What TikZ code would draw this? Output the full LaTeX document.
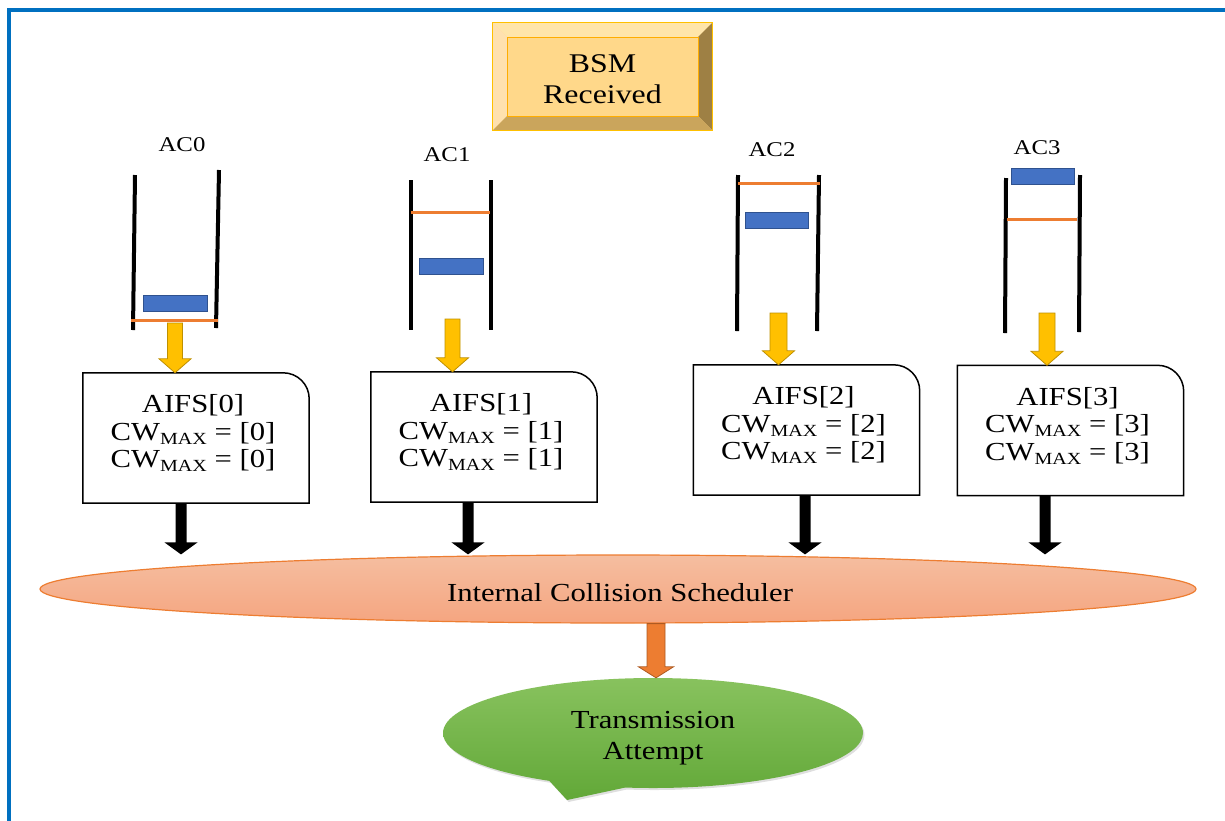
\documentclass[tikz,border=0pt]{standalone}
\usepackage{fontspec}
\setmainfont{Liberation Serif}[FakeStretch=1.18]
\usetikzlibrary{calc,shapes.geometric,shapes.callouts,shadows}
\definecolor{frameblue}{RGB}{0,112,192}
\definecolor{qblue}{RGB}{68,114,196}
\definecolor{qblueb}{RGB}{47,82,143}
\definecolor{qorange}{RGB}{237,125,49}
\definecolor{ayellow}{RGB}{255,192,0}
\definecolor{ayellowb}{RGB}{191,144,0}
\definecolor{bsmfill}{RGB}{255,216,138}
\definecolor{bsmtop}{RGB}{255,229,170}
\definecolor{bsmleft}{RGB}{255,225,175}
\definecolor{bsmright}{RGB}{158,128,68}
\definecolor{bsmbot}{RGB}{202,165,92}
\definecolor{salmontop}{RGB}{245,190,160}
\definecolor{salmonbot}{RGB}{245,165,128}
\definecolor{greentop}{RGB}{136,194,94}
\definecolor{greenbot}{RGB}{98,168,56}
\definecolor{oarrowb}{RGB}{174,90,33}
\newcommand{\blockarrow}[6]{%
  \path[#6] let \p1=(#1), \p2=(#2) in
    ({\x1-#3},\y1) -- ({\x1-#3},{\y2+#5}) -- ({\x1-#4},{\y2+#5}) -- (\x1,\y2)
    -- ({\x1+#4},{\y2+#5}) -- ({\x1+#3},{\y2+#5}) -- ({\x1+#3},\y1) -- cycle;}
\newcommand{\cwmax}{CW\raisebox{-4pt}{\fontsize{17}{17}\selectfont MAX}}
\tikzset{
  wall/.style={line width=4pt, black},
  fillline/.style={line width=3pt, qorange},
  packet/.style={fill=qblue, draw=qblueb, line width=0.8pt},
  aclabel/.style={font=\fontsize{21}{21}\selectfont, inner sep=0pt},
  aifsbox/.style={minimum width=226pt, minimum height=130pt, inner sep=0pt},
  aifsshape/.style={draw=black, line width=1.5pt, fill=white},
  aifstext/.style={align=center, font=\fontsize{26}{27.5}\selectfont, inner sep=0pt},
  yarrow/.style={fill=ayellow, draw=ayellowb, line width=0.8pt},
  karrow/.style={fill=black},
  oarrow/.style={fill=qorange, draw=oarrowb, line width=0.8pt},
}
\begin{document}
\begin{tikzpicture}[x=1pt,y=-1pt]
\useasboundingbox (0,0) rectangle (1225,820);
% frame
\draw[frameblue, line width=4pt] (9,822) -- (9,9.5) -- (1227,9.5);

% BSM Received
\node[minimum width=219pt, minimum height=107pt, fill=bsmfill, inner sep=0pt] (bsm) at (602.5,76.5) {};
\fill[bsmtop] (bsm.north west) -- (bsm.north east) -- ([shift={(-14pt,-14pt)}]bsm.north east) -- ([shift={(14pt,-14pt)}]bsm.north west) -- cycle;
\fill[bsmleft] (bsm.north west) -- ([shift={(14pt,-14pt)}]bsm.north west) -- ([shift={(14pt,14pt)}]bsm.south west) -- (bsm.south west) -- cycle;
\fill[bsmright] (bsm.north east) -- (bsm.south east) -- ([shift={(-14pt,14pt)}]bsm.south east) -- ([shift={(-14pt,-14pt)}]bsm.north east) -- cycle;
\fill[bsmbot] (bsm.south west) -- ([shift={(14pt,14pt)}]bsm.south west) -- ([shift={(-14pt,14pt)}]bsm.south east) -- (bsm.south east) -- cycle;
\draw[ayellow, line width=1pt] (bsm.north west) rectangle (bsm.south east);
\draw[ayellow!70!orange, line width=0.6pt] ([shift={(14pt,-14pt)}]bsm.north west) rectangle ([shift={(-14pt,14pt)}]bsm.south east);
\node[align=center, font=\fontsize{27}{31}\selectfont, inner sep=0pt] (bsmt) at ([yshift=-3pt]bsm.center) {BSM\\Received};

% AC labels
\node[aclabel] (l0) at (182,145) {AC0};
\node[aclabel] (l1) at (447,155) {AC1};
\node[aclabel] (l2) at (772,150) {AC2};
\node[aclabel] (l3) at (1037,148) {AC3};

% queues
% AC0
\draw[wall] (135,175) -- (133,330);
\draw[wall] (219,170) -- (216,328);
\draw[packet] (143,295) rectangle (207,311);
\draw[fillline] (131,320) -- (218,320);
% AC1
\draw[wall] (411,180) -- (411,330);
\draw[wall] (491,180) -- (491,330);
\draw[fillline] (411,212) -- (490,212);
\draw[packet] (419,258) rectangle (483,274);
% AC2
\draw[wall] (738,175) -- (737,331);
\draw[wall] (819,175) -- (817,331);
\draw[fillline] (738,183) -- (820,183);
\draw[packet] (745,212) rectangle (808,228);
% AC3
\draw[wall] (1006,178) -- (1005,333);
\draw[wall] (1080,175) -- (1079,332);
\draw[fillline] (1007,219) -- (1077,219);
\draw[packet] (1011,168) rectangle (1074,184);

% AIFS boxes
\node[aifsbox] (b0) at (196,438) {};
\node[aifsbox] (b1) at (484,437) {};
\node[aifsbox] (b2) at (806.5,430) {};
\node[aifsbox] (b3) at (1070.5,430.5) {};
\foreach \b in {b0,b1,b2,b3}{
  \draw[aifsshape] (\b.south west) -- (\b.north west) -- ([xshift=-26pt]\b.north east)
    arc[start angle=90, end angle=0, radius=26pt] -- (\b.south east) -- cycle;
}
\node[aifstext] (t0) at ([shift={(-3pt,5pt)}]b0.center) {AIFS[0]\\\cwmax{} = [0]\\\cwmax{} = [0]};
\node[aifstext] (t1) at ([shift={(-3pt,5pt)}]b1.center) {AIFS[1]\\\cwmax{} = [1]\\\cwmax{} = [1]};
\node[aifstext] (t2) at ([shift={(-3pt,5pt)}]b2.center) {AIFS[2]\\\cwmax{} = [2]\\\cwmax{} = [2]};
\node[aifstext] (t3) at ([shift={(-3pt,5pt)}]b3.center) {AIFS[3]\\\cwmax{} = [3]\\\cwmax{} = [3]};

% yellow arrows from queues to boxes
\coordinate (q0) at (175,323);
\coordinate (q1) at (452.5,319);
\coordinate (q2) at (778.5,313);
\coordinate (q3) at (1047,313);
\blockarrow{q0}{q0 |- b0.north}{7.5pt}{16pt}{14pt}{yarrow}
\blockarrow{q1}{q1 |- b1.north}{7.5pt}{16pt}{14pt}{yarrow}
\blockarrow{q2}{q2 |- b2.north}{8.5pt}{16pt}{14pt}{yarrow}
\blockarrow{q3}{q3 |- b3.north}{8pt}{16pt}{14pt}{yarrow}

% scheduler
\node[ellipse, minimum width=1156pt, minimum height=68pt, inner sep=0pt,
      top color=salmontop, bottom color=salmonbot, draw=qorange, line width=1.2pt] (ell) at (618,589) {};
\node[font=\fontsize{26}{26}\selectfont, inner sep=0pt] (ellt) at (620,593) {Internal Collision Scheduler};

% black arrows
\coordinate (s0) at ([xshift=-15pt]b0.south);
\coordinate (s1) at ([xshift=-16pt]b1.south);
\coordinate (s2) at ([xshift=-1.5pt]b2.south);
\coordinate (s3) at ([xshift=-25.5pt]b3.south);
\blockarrow{s0}{s0 |- ell.north}{5.5pt}{16.5pt}{12pt}{karrow}
\blockarrow{s1}{s1 |- ell.north}{5.5pt}{16.5pt}{12pt}{karrow}
\blockarrow{s2}{s2 |- ell.north}{5.5pt}{16.5pt}{12pt}{karrow}
\blockarrow{s3}{s3 |- ell.north}{5.5pt}{16.5pt}{12pt}{karrow}

% transmission attempt bubble
\node[ellipse callout, callout absolute pointer={(567,800)}, callout pointer arc=22,
      minimum width=420pt, minimum height=110pt, inner sep=0pt,
      top color=greentop, bottom color=greenbot, draw=none,
      drop shadow={opacity=0.25, shadow xshift=1.5pt, shadow yshift=-2pt}] (bub) at (653,733) {};
\node[align=center, font=\fontsize{26}{31}\selectfont, inner sep=0pt] (bubt) at (653,738) {Transmission\\Attempt};

% orange arrow
\coordinate (e0) at ([xshift=38pt]ell.south);
\blockarrow{e0}{e0 |- bub.north}{9pt}{17.5pt}{11pt}{oarrow}
\end{tikzpicture}
\end{document}
